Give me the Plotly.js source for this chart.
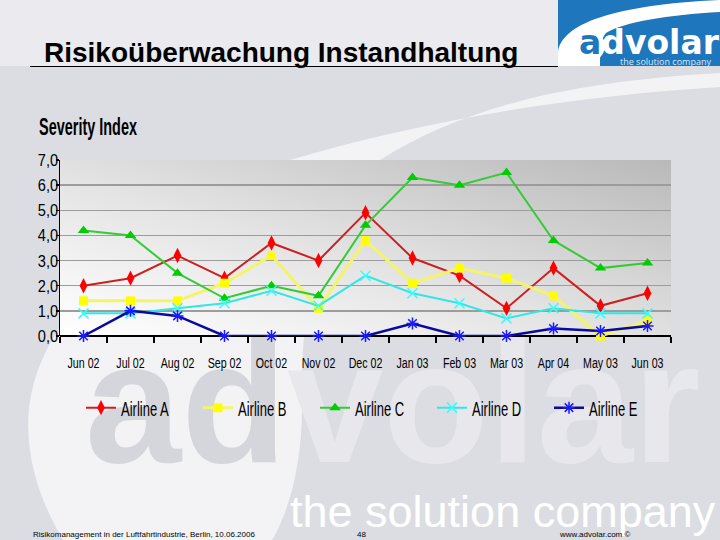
<!DOCTYPE html>
<html>
<head>
<meta charset="utf-8">
<script src="https://cdn.plot.ly/plotly-3.0.1.min.js"></script>
<style>
html,body{margin:0;padding:0;background:#dcdde2;}
#chart{width:720px;height:540px;}
</style>
</head>
<body>
<div id="chart"></div>
<script>
// ---- data ----
const months = ['Jun 02','Jul 02','Aug 02','Sep 02','Oct 02','Nov 02','Dec 02','Jan 03','Feb 03','Mar 03','Apr 04','May 03','Jun 03'];
const seriesNames = ['Airline A','Airline B','Airline C','Airline D','Airline E'];
const airlineA = [2.0, 2.3, 3.2, 2.3, 3.7, 3.0, 4.9, 3.1, 2.4, 1.1, 2.7, 1.2, 1.7];
const airlineB = [1.4, 1.4, 1.4, 2.1, 3.2, 1.1, 3.8, 2.1, 2.7, 2.3, 1.6, 0.0, 0.6];
const airlineC = [4.2, 4.0, 2.5, 1.5, 2.0, 1.6, 4.4, 6.3, 6.0, 6.5, 3.8, 2.7, 2.9];
const airlineD = [0.9, 0.9, 1.1, 1.3, 1.8, 1.2, 2.4, 1.7, 1.3, 0.7, 1.1, 0.9, 0.9];
const airlineE = [0.0, 1.0, 0.8, 0.0, 0.0, 0.0, 0.0, 0.5, 0.0, 0.0, 0.3, 0.2, 0.4];
const yTicks = [0,1,2,3,4,5,6,7];

// ---- helpers (pixel -> paper) ----
const PL = 60, PR = 671, PT = 160, PB = 336;
const px = x => (x - PL) / (PR - PL);
const py = y => (PB - y) / (PB - PT);

const SANS = '"Liberation Sans", Arial, sans-serif';

// ---- background artwork (no text) ----
const svg = '<svg xmlns="http://www.w3.org/2000/svg" width="720" height="540" viewBox="0 0 720 540" preserveAspectRatio="none">' +
 '<defs><linearGradient id="g" x1="0" y1="1" x2="1" y2="0">' +
 '<stop offset="0" stop-color="#ffffff"/><stop offset="0.45" stop-color="#e4e4e4"/><stop offset="1" stop-color="#b9b9b9"/></linearGradient></defs>' +
 '<rect width="720" height="540" fill="#dcdde2"/>' +
 '<rect width="720" height="66" fill="#ebebef"/>' +
 '<path d="M63 540 C22 470 12 395 62 325 C120 245 200 190 290 160 C420 122 560 97 720 87 L720 73 C560 82 460 110 380 160 C320 210 300 300 302 400 C303 460 290 510 272 540 Z" fill="#f3f3f5"/>' +
 '<rect x="60" y="160" width="611" height="176" fill="url(#g)"/>' +
 '<rect x="558" y="0" width="162" height="66" fill="#1e76bd"/>' +
 '<path d="M558 66 L558 52 C562 24 612 5 720 0 L720 12 C668 15 624 22 606 33 C601 38 600 50 600 66 Z" fill="#ffffff"/>' +
 '<ellipse cx="588" cy="46" rx="17" ry="16" fill="#ffffff"/>' +
 '</svg>';

const styles = [
  {line:{color:'#cc2020', width:2}, marker:{symbol:'diamond-tall', size:11, color:'#ff0000'}},
  {line:{color:'#f4f46a', width:3}, marker:{symbol:'square', size:9, color:'#ffff00'}},
  {line:{color:'#33cc33', width:2}, marker:{symbol:'triangle-up', size:10, color:'#00cc00'}},
  {line:{color:'#33e6e6', width:2}, marker:{symbol:'x-thin-open', size:10, color:'#33ffff', line:{width:1.5, color:'#33ffff'}}},
  {line:{color:'#0a0a9e', width:2.5}, marker:{symbol:'asterisk-open', size:10, color:'#1a1aff', line:{width:1.5, color:'#1a1aff'}}}
];
const values = [airlineA, airlineB, airlineC, airlineD, airlineE];

const traces = values.map((v, i) => ({
  type:'scatter', mode:'lines+markers', name: seriesNames[i],
  x: months, y: v, line: styles[i].line, marker: styles[i].marker,
  cliponaxis:false, hoverinfo:'skip'
}));

const layout = {
  width:720, height:540,
  margin:{l:PL, r:720-PR, t:PT, b:540-PB, pad:0},
  paper_bgcolor:'#dcdde2', plot_bgcolor:'rgba(0,0,0,0)',
  separators:',.',
  showlegend:true,
  xaxis:{type:'category', categoryorder:'array', categoryarray:months, range:[-0.5, 12.5],
    tickson:'boundaries', ticks:'outside', ticklen:6, tickwidth:1.5, tickcolor:'#000', tickangle:0,
    showline:false, showgrid:false, zeroline:false, fixedrange:true,
    tickfont:{family:SANS, size:14, color:'#000'}, ticklabelstandoff:17},
  yaxis:{range:[0,7], tickvals:yTicks, tickformat:'.1f', ticks:'outside', ticklen:3, tickwidth:1.5, tickcolor:'#000',
    showline:true, linecolor:'#000', linewidth:1.5,
    showgrid:true, gridcolor:'#9c9c9c', gridwidth:1.5,
    zeroline:true, zerolinecolor:'#000', zerolinewidth:2, fixedrange:true,
    tickfont:{family:SANS, size:17, color:'#000'}, ticklabelstandoff:0},
  legend:{orientation:'h', x:px(81), xanchor:'left', y:py(408), yanchor:'middle',
    font:{family:SANS, size:21, color:'#000'}, bgcolor:'rgba(0,0,0,0)',
    entrywidth:72, entrywidthmode:'pixels', itemwidth:30, traceorder:'normal'},
  images:[{source:'data:image/svg+xml;charset=utf-8,' + encodeURIComponent(svg),
    xref:'paper', yref:'paper', x:px(0), y:py(0), sizex:720/(PR-PL), sizey:540/(PB-PT),
    xanchor:'left', yanchor:'top', sizing:'stretch', layer:'below'}],
  shapes:[{type:'line', xref:'paper', yref:'paper', x0:px(30), x1:px(558), y0:py(66.5), y1:py(66.5),
    line:{color:'#000', width:1.2}}],
  annotations:[
    // decorative watermark (moved beneath the chart after drawing)
    {text:'<span style="color:#d5d6db">ad</span>volar', xref:'paper', yref:'paper', x:px(83), y:py(402),
     xanchor:'left', yanchor:'middle', showarrow:false, font:{family:SANS, size:173, weight:'bold', color:'#e8e8ec'}},
    {text:'the solution company', xref:'paper', yref:'paper', x:px(288), y:py(511), align:'left',
     xanchor:'left', yanchor:'middle', showarrow:false, font:{family:SANS, size:45, color:'#ffffff'}},
    // slide texts
    {text:'Risikoüberwachung Instandhaltung', xref:'paper', yref:'paper', x:px(42), y:py(52),
     xanchor:'left', yanchor:'middle', showarrow:false, font:{family:SANS, size:28, weight:'bold', color:'#000'}},
    {text:'Severity Index', xref:'paper', yref:'paper', x:px(37), y:py(127), align:'left',
     xanchor:'left', yanchor:'middle', showarrow:false, font:{family:SANS, size:23, weight:'bold', color:'#000'}},
    {text:'<span style="color:#1e76bd">a</span>dvolar', xref:'paper', yref:'paper', x:px(577), y:py(42),
     xanchor:'left', yanchor:'middle', showarrow:false, font:{family:'"DejaVu Sans", sans-serif', size:33, weight:'bold', color:'#ffffff'}},
    {text:'the solution company', xref:'paper', yref:'paper', x:px(713), y:py(61),
     xanchor:'right', yanchor:'middle', showarrow:false, font:{family:'"Open Sans", sans-serif', size:9, color:'#dbe9f5'}},
    {text:'Risikomanagement in der Luftfahrtindustrie, Berlin, 10.06.2006', xref:'paper', yref:'paper', x:px(31), y:py(534),
     xanchor:'left', yanchor:'middle', showarrow:false, font:{family:SANS, size:8, color:'#000'}},
    {text:'48', xref:'paper', yref:'paper', x:px(361), y:py(534),
     xanchor:'center', yanchor:'middle', showarrow:false, font:{family:SANS, size:8, color:'#000'}},
    {text:'www.advolar.com ©', xref:'paper', yref:'paper', x:px(557), y:py(534),
     xanchor:'left', yanchor:'middle', showarrow:false, font:{family:SANS, size:8, color:'#000'}}
  ]
};

function condense(el, factor, target) {
  const L = el.getComputedTextLength();
  if (!L) return;
  const w = target ? target : L * factor;
  el.setAttribute('textLength', w.toFixed(1));
  el.setAttribute('lengthAdjust', 'spacingAndGlyphs');
}

Plotly.newPlot('chart', traces, layout, {staticPlot:true, displayModeBar:false}).then(gd => {
  // narrow, tightly set lettering as in the original slide
  gd.querySelectorAll('.xtick text').forEach(t => condense(t, 0.76));
  gd.querySelectorAll('.ytick text').forEach(t => {
    condense(t, 0.86);
    t.setAttribute('x', (parseFloat(t.getAttribute('x')) || 0) + 6);
  });
  gd.querySelectorAll('text.legendtext').forEach(t => condense(t, 0.62));
  gd.querySelectorAll('g.annotation').forEach(g => {
    const t = g.querySelector('text');
    if (!t) return;
    if (t.getAttribute('data-unformatted') === 'Severity Index') condense(t, 0, 98);
  });
  // send the watermark lettering behind the chart
  const below = gd.querySelector('.layer-below');
  ['0','1'].forEach(i => {
    const g = gd.querySelector('g.annotation[data-index="' + i + '"]');
    if (g && below) below.appendChild(g);
  });
});
</script>
</body>
</html>
